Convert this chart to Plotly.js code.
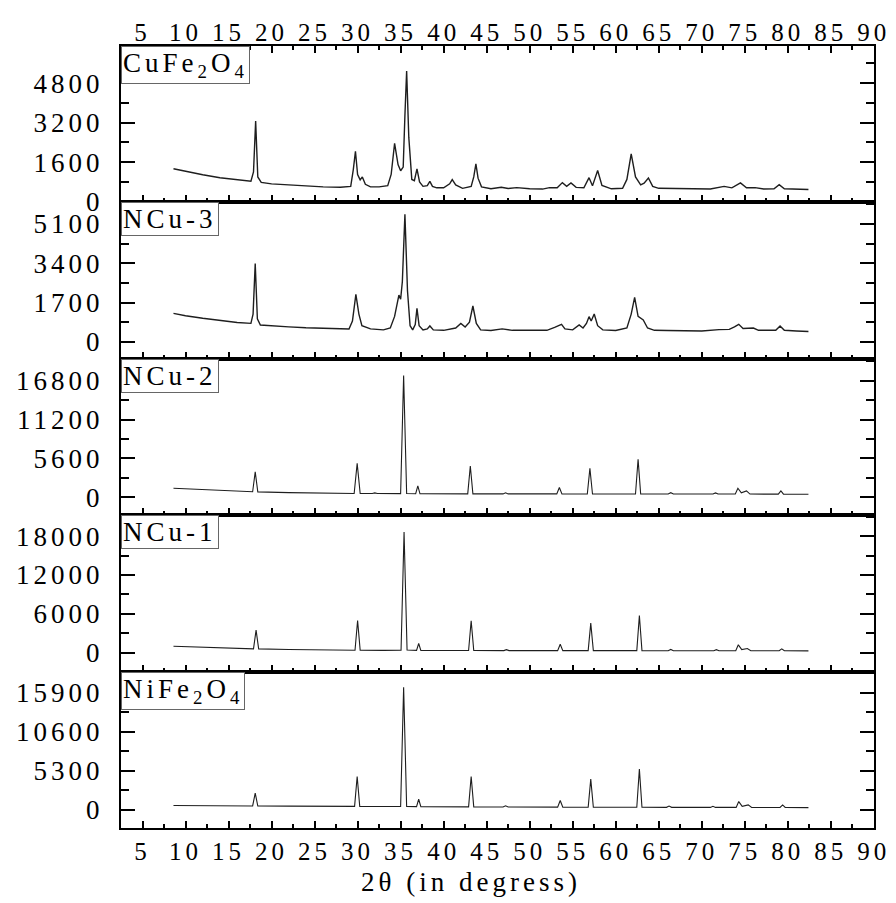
<!DOCTYPE html>
<html>
<head>
<meta charset="utf-8">
<script src="https://cdn.plot.ly/plotly-3.0.1.min.js"></script>
<style>
  html, body { margin: 0; padding: 0; background: #fff; }
  #chart { width: 896px; height: 903px; }
  svg text { letter-spacing: 4px; }
</style>
</head>
<body>
<div id="chart"></div>
<script>
// ---------- data (2θ in degrees, intensity in counts) ----------
const sampleNames = ["CuFe<sub>2</sub>O<sub>4</sub>", "NCu-3", "NCu-2", "NCu-1", "NiFe<sub>2</sub>O<sub>4</sub>"];

const tthCuFe2O4 = [8.6, 10, 12, 14, 16, 17.6, 17.9, 18.15, 18.4, 18.8, 20, 22, 24, 26, 28, 29.2, 29.5, 29.75, 30.0, 30.3, 30.55, 30.9, 31.5, 32.5, 33.5, 33.9, 34.3, 34.7, 35.0, 35.3, 35.5, 35.7, 35.95, 36.3, 36.6, 36.9, 37.2, 37.6, 38.1, 38.4, 38.7, 39.2, 40.0, 40.7, 41.0, 41.4, 42.2, 43.2, 43.5, 43.75, 44.0, 44.4, 45.5, 46.7, 47.5, 48.5, 50, 51.5, 52.3, 53.2, 53.8, 54.3, 54.8, 55.4, 56.3, 56.9, 57.3, 57.9, 58.4, 59.5, 60.8, 61.3, 61.8, 62.3, 62.9, 63.3, 63.8, 64.3, 65, 67, 69, 71, 72.6, 73.5, 74.5, 75.2, 76.2, 77.2, 78.4, 79.0, 79.6, 81, 82.4];
const intCuFe2O4 = [1330, 1220, 1090, 970, 880, 830, 1200, 3260, 1000, 780, 720, 670, 630, 600, 585, 620, 1300, 2040, 1100, 880, 1000, 700, 600, 600, 650, 1100, 2360, 1500, 1250, 1400, 3500, 5290, 2600, 900, 850, 1330, 800, 620, 650, 820, 620, 560, 560, 720, 890, 680, 540, 620, 1000, 1530, 950, 600, 520, 580, 530, 570, 520, 510, 570, 560, 770, 620, 760, 580, 560, 970, 640, 1260, 660, 520, 540, 900, 1930, 1000, 680, 750, 960, 620, 540, 520, 500, 510, 620, 560, 760, 560, 570, 510, 520, 690, 520, 490, 490];

const tthNCu3 = [8.6, 10, 12, 14, 16, 17.6, 17.85, 18.1, 18.35, 18.7, 20, 22, 24, 26, 28, 29.0, 29.4, 29.8, 30.15, 30.5, 31.5, 33.0, 33.8, 34.3, 34.8, 35.0, 35.2, 35.5, 35.8, 36.1, 36.4, 36.7, 36.9, 37.15, 37.6, 38.1, 38.4, 38.8, 40, 41.4, 42.0, 42.5, 43.0, 43.4, 43.8, 44.3, 45.5, 46.8, 48, 50, 52.0, 52.9, 53.7, 54.1, 55.0, 55.75, 56.2, 56.6, 56.9, 57.15, 57.5, 57.9, 58.5, 60, 61.3, 61.8, 62.2, 62.6, 63.2, 63.7, 64.5, 66, 68, 70, 72.0, 73.2, 73.8, 74.3, 74.8, 76.0, 76.6, 78, 78.6, 79.1, 79.6, 81, 82.4];
const intNCu3 = [1230, 1130, 1020, 920, 840, 800, 1200, 3390, 1000, 730, 690, 650, 610, 580, 555, 560, 900, 2050, 1200, 700, 560, 520, 600, 1100, 2020, 1840, 2600, 5510, 2200, 700, 520, 750, 1450, 700, 520, 560, 690, 520, 500, 600, 800, 640, 850, 1550, 800, 520, 490, 560, 500, 490, 500, 630, 760, 560, 520, 730, 600, 800, 1090, 900, 1205, 700, 520, 490, 600, 1200, 1920, 1100, 950, 600, 500, 490, 480, 470, 530, 540, 650, 760, 580, 600, 500, 480, 500, 690, 500, 470, 450];

const tthNCu2 = [8.6, 12, 16, 17.8, 18.1, 18.4, 22, 26, 29.6, 29.95, 30.3, 31.7, 32.0, 32.3, 35.0, 35.35, 35.7, 36.75, 37.0, 37.25, 40, 42.8, 43.1, 43.4, 46.9, 47.2, 47.5, 53.15, 53.45, 53.75, 56.7, 57.0, 57.3, 62.3, 62.6, 62.9, 66.1, 66.4, 66.7, 71.3, 71.6, 71.9, 73.9, 74.2, 74.6, 75.2, 75.6, 78.9, 79.2, 79.5, 82.4];
const intNCu2 = [1290, 1080, 880, 780, 3640, 760, 650, 580, 540, 4880, 530, 530, 620, 520, 510, 17560, 520, 500, 1620, 490, 480, 480, 4500, 480, 470, 640, 470, 470, 1390, 470, 460, 4160, 460, 460, 5460, 460, 450, 640, 450, 450, 620, 450, 450, 1290, 620, 900, 450, 440, 900, 440, 430];

const tthNCu1 = [8.6, 12, 16, 17.9, 18.2, 18.5, 22, 26, 29.7, 30.0, 30.3, 33, 35.05, 35.4, 35.75, 36.85, 37.1, 37.35, 40, 42.9, 43.2, 43.5, 47.0, 47.3, 47.6, 53.25, 53.55, 53.85, 56.8, 57.1, 57.4, 62.45, 62.75, 63.05, 66.1, 66.4, 66.7, 71.4, 71.7, 72.0, 73.95, 74.25, 74.65, 75.3, 75.7, 79.0, 79.3, 79.6, 82.4];
const intNCu1 = [980, 820, 660, 570, 3460, 560, 470, 400, 360, 4960, 360, 340, 350, 18650, 380, 330, 1395, 330, 310, 310, 4910, 310, 300, 450, 300, 300, 1290, 300, 300, 4545, 300, 300, 5735, 300, 280, 480, 280, 280, 450, 280, 280, 1190, 450, 620, 270, 270, 570, 270, 260];

const tthNiFe2O4 = [8.6, 12, 16, 17.8, 18.1, 18.4, 22, 26, 29.65, 29.95, 30.25, 33, 35.0, 35.35, 35.7, 36.85, 37.1, 37.35, 40, 42.9, 43.2, 43.5, 46.9, 47.2, 47.5, 53.25, 53.55, 53.85, 56.8, 57.1, 57.4, 62.45, 62.75, 63.05, 65.9, 66.2, 66.5, 71.0, 71.3, 71.6, 74.0, 74.3, 74.7, 75.4, 75.8, 79.1, 79.4, 79.7, 82.4];
const intNiFe2O4 = [590, 570, 550, 540, 2265, 530, 510, 490, 480, 4530, 470, 460, 460, 16625, 470, 450, 1450, 450, 430, 420, 4530, 410, 400, 560, 400, 380, 1270, 380, 370, 4170, 370, 360, 5530, 360, 350, 520, 350, 340, 500, 340, 340, 1130, 480, 680, 330, 330, 680, 330, 317];

// y-axis tick step per panel (labels 0, step, 2·step, 3·step)
const yTickStep = [1600, 1700, 5600, 6000, 5300];
const xTickStep = 5;
const xAxisTitle = "2θ (in degress)";

// ---------- styling / layout ----------
const series = [
  [tthCuFe2O4, intCuFe2O4],
  [tthNCu3, intNCu3],
  [tthNCu2, intNCu2],
  [tthNCu1, intNCu1],
  [tthNiFe2O4, intNiFe2O4]
];
const yRanges = [[-30, 6300], [-730, 6025], [-2600, 19960], [-2950, 21240], [-2450, 18750]];
const lineWidths = [1.4, 1.4, 1.1, 1.1, 1.1];
const FONT = "Liberation Serif";
const INK = "#000";

const traces = series.map((s, i) => ({
  x: s[0], y: s[1], type: "scatter", mode: "lines",
  xaxis: i === 0 ? "x" : "x" + (i + 1),
  yaxis: i === 0 ? "y" : "y" + (i + 1),
  line: { color: "#1e1e1e", width: lineWidths[i] },
  hoverinfo: "skip"
}));

const layout = {
  width: 896, height: 903,
  margin: { l: 121, r: 22, t: 46, b: 75 },
  paper_bgcolor: "#fff", plot_bgcolor: "#fff",
  showlegend: false,
  separators: ".",
  font: { family: FONT, color: INK },
  annotations: []
};

for (let i = 0; i < 5; i++) {
  const xk = i === 0 ? "xaxis" : "xaxis" + (i + 1);
  const yk = i === 0 ? "yaxis" : "yaxis" + (i + 1);
  const top = 1 - i * 0.2, bottom = 1 - (i + 1) * 0.2;
  layout[xk] = {
    anchor: i === 0 ? "y" : "y" + (i + 1),
    domain: [0, 1],
    range: [2.5, 90.02],
    side: i === 0 ? "top" : "bottom",
    showticklabels: i === 0 || i === 4,
    tickmode: "linear", tick0: 0, dtick: xTickStep,
    ticks: "inside", ticklen: 7, tickwidth: 2, tickcolor: INK,
    minor: { ticks: "inside", ticklen: 4, tickwidth: 2, tickcolor: INK, dtick: xTickStep / 2, tick0: 0 },
    mirror: i === 0 ? "ticks" : true,
    showline: true, linewidth: 2, linecolor: INK,
    showgrid: false, zeroline: false,
    tickangle: 0,
    ticklabelstandoff: i === 0 ? -7 : 0,
    tickfont: { family: FONT, size: 25, color: INK }
  };
  if (i > 0) layout[xk].matches = "x";
  layout[yk] = {
    anchor: i === 0 ? "x" : "x" + (i + 1),
    domain: [bottom, top],
    range: yRanges[i],
    tickmode: "linear", tick0: 0, dtick: yTickStep[i],
    exponentformat: "none", separatethousands: false,
    ticks: "inside", ticklen: 14, tickwidth: 2, tickcolor: INK,
    minor: { ticks: "inside", ticklen: 8, tickwidth: 2, tickcolor: INK, dtick: yTickStep[i] / 2, tick0: 0 },
    mirror: "ticks",
    showline: true, linewidth: 2, linecolor: INK,
    showgrid: false, zeroline: false,
    ticklabelstandoff: 10,
    tickfont: { family: FONT, size: 27, color: INK }
  };
  layout.annotations.push({
    xref: "paper", yref: "paper", x: 0, y: top,
    xanchor: "left", yanchor: "top",
    text: sampleNames[i], showarrow: false,
    font: { family: FONT, size: 27, color: INK },
    bgcolor: "#fff", bordercolor: "#666", borderwidth: 1, borderpad: 1
  });
}

layout.annotations.push({
  xref: "paper", yref: "paper", x: 0.465, y: -0.069,
  xanchor: "center", yanchor: "middle",
  text: xAxisTitle, showarrow: false,
  font: { family: FONT, size: 27, color: INK }
});

Plotly.newPlot("chart", traces, layout, { staticPlot: true, displayModeBar: false });
</script>
</body>
</html>
